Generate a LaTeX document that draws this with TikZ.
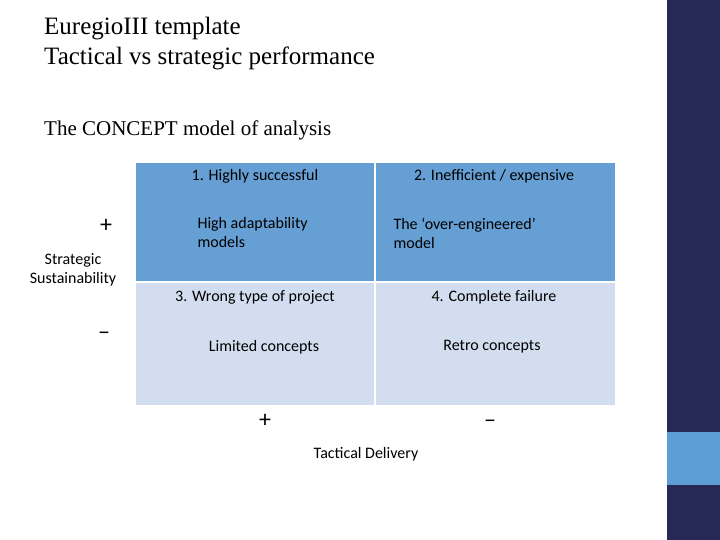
\documentclass[tikz,border=0pt]{standalone}
\usepackage{fontspec}
\setmainfont{Carlito}
\newfontfamily\ttl{Liberation Serif}
\definecolor{navy}{HTML}{262956}
\definecolor{lblue}{HTML}{5E9ED6}
\definecolor{mblue}{HTML}{669FD4}
\definecolor{pale}{HTML}{D2DEEF}
\begin{document}
\begin{tikzpicture}[x=1pt,y=-1pt,
 cell/.style={font=\fontsize{16}{19}\selectfont,align=left,anchor=west},
 hd/.style={font=\fontsize{16}{19}\selectfont,anchor=center},
 sg/.style={font=\fontsize{24}{24}\selectfont}]
\useasboundingbox (0,0) rectangle (720,540);
\fill[navy] (667,0) rectangle (720,540);
\fill[lblue] (667,432) rectangle (720,485);
\fill[mblue] (136,163) rectangle (615,281);
\fill[pale] (136,283) rectangle (615,405);
\draw[white,line width=2] (375,163) -- (375,405);
\node[font=\ttl\fontsize{25}{30}\selectfont,align=left,anchor=north west,inner sep=0] (t) at (44,17) {EuregioIII template\\Tactical vs strategic performance};
\node[font=\ttl\fontsize{21}{25}\selectfont,anchor=west,inner sep=0] (c) at (44,130) {The CONCEPT model of analysis};
\node[hd] (h1) at (255,176) {1. Highly successful};
\node[hd] (h2) at (494,176) {2. Inefficient / expensive};
\node[cell] (a) at (194,233) {High adaptability\\models};
\node[cell] (b) at (390,233) {The ‘over-engineered’\\model};
\node[hd] (h3) at (255,297) {3. Wrong type of project};
\node[hd] (h4) at (494,297) {4. Complete failure};
\node[hd] (l1) at (264,347) {Limited concepts};
\node[hd] (l2) at (492,347) {Retro concepts};
\node[sg] (p1) at (106,226) {+};
\node[sg] (m1) at (104,336) {--};
\node[hd,align=center] (ss) at (73,270) {Strategic\\Sustainability};
\node[sg] (p2) at (265,421) {+};
\node[sg] (m2) at (490,424) {--};
\node[hd] (td) at (366,454) {Tactical Delivery};
\end{tikzpicture}
\end{document}
